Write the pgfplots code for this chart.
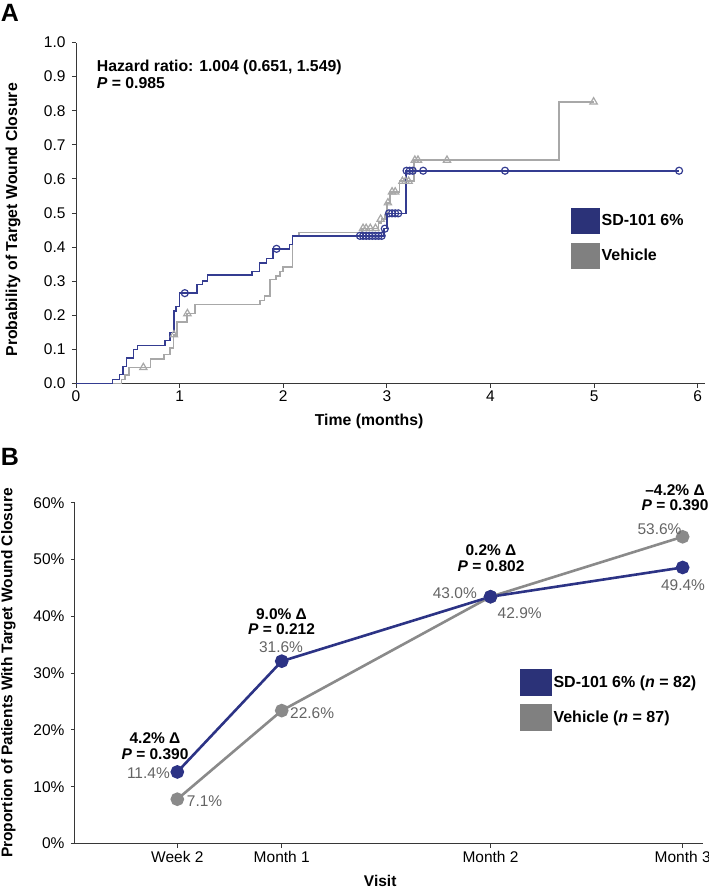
\documentclass[border=0pt]{standalone}
\usepackage{fontspec}
\setmainfont{Liberation Sans}
\usepackage{pgfplots}
\pgfplotsset{compat=1.18}
\definecolor{sdblue}{RGB}{44,51,133}
\definecolor{sdblueA}{RGB}{52,60,145}
\definecolor{sdblueLeg}{RGB}{43,50,120}
\definecolor{vehgray}{RGB}{138,138,138}
\definecolor{vehgrayA}{RGB}{168,168,168}
\definecolor{vehgrayLeg}{RGB}{128,128,128}
\definecolor{axisgray}{RGB}{55,55,55}
\definecolor{labgray}{RGB}{100,100,100}
\begin{document}
\begin{tikzpicture}
\path[use as bounding box] (0,0) rectangle (709pt,-889pt);
% ---------------- Panel A ----------------
\begin{axis}[
  at={(76pt,-383.5pt)}, anchor=south west,
  scale only axis, width=629pt, height=341pt,
  xmin=0, xmax=6.07, ymin=0, ymax=1,
  axis lines=left, axis line style={-, axisgray},
  x axis line style={line width=1.8pt},
  y axis line style={line width=0.9pt},
  xtick={0,1,2,3,4,5,6},
  ytick={0,0.1,0.2,0.3,0.4,0.5,0.6,0.7,0.8,0.9,1},
  tick align=outside, major tick length=4pt,
  tick style={axisgray, line width=0.9pt},
  /pgf/number format/assume math mode=true,
  yticklabel style={xshift=-3pt, /pgf/number format/fixed, /pgf/number format/fixed zerofill, /pgf/number format/precision=1},
  tick label style={font=\fontsize{15.5}{15.5}\selectfont},
  xlabel={Time (months)}, ylabel={Probability of Target Wound Closure},
  label style={font=\bfseries\fontsize{15.8}{15.8}\selectfont},
  xlabel style={at={(axis description cs:0.466,-0.11)}, anchor=center},
  ylabel style={at={(axis description cs:-0.100,0.48)}, anchor=center},
  clip=false,
  reverse legend,
  legend style={at={(axis description cs:0.786,0.515)}, anchor=north west, draw=none, fill=none,
    inner sep=0pt, row sep=8.5pt, nodes={inner sep=1.5pt},
    font=\bfseries\fontsize{16}{16}\selectfont},
  legend cell align=left,
]
\addplot[const plot mark left, vehgrayA, line width=1.6pt,
  legend image code/.code={\fill[vehgrayLeg] (0pt,-12.25pt) rectangle (28pt,12.25pt);}]
coordinates {(0,0) (0.44,0.012) (0.475,0.025) (0.51,0.047) (0.72,0.072) (0.85,0.085)
 (0.905,0.105) (0.94,0.143) (0.975,0.18) (1.07,0.205) (1.15,0.232) (1.775,0.243)
 (1.82,0.256) (1.87,0.305) (1.93,0.315) (1.97,0.328) (2.0,0.342) (2.09,0.433)
 (2.15,0.443) (2.76,0.455) (2.92,0.47) (2.95,0.482) (2.98,0.496) (3.0,0.53)
 (3.03,0.562) (3.12,0.593) (3.26,0.655) (4.66,0.826) (5.0,0.826)};
\addlegendentry{Vehicle}
\addplot[only marks, mark=triangle, mark size=4.2pt, vehgrayA, mark options={line width=1.2pt}, forget plot]
coordinates {(0.65,0.047) (0.945,0.143) (1.075,0.205) (2.77,0.455) (2.80,0.455)
 (2.84,0.455) (2.89,0.455) (2.94,0.482) (3.01,0.53) (3.05,0.562) (3.08,0.562)
 (3.15,0.593) (3.18,0.593) (3.21,0.593) (3.27,0.655) (3.30,0.655) (3.58,0.655) (4.995,0.826)};
\addplot[const plot mark left, sdblueA, line width=1.6pt,
  legend image code/.code={\fill[sdblueLeg] (0pt,-12.25pt) rectangle (28pt,12.25pt);}]
coordinates {(0,0) (0.354,0.012) (0.418,0.026) (0.456,0.05) (0.488,0.075) (0.553,0.10)
 (0.595,0.111) (0.858,0.126) (0.907,0.15) (0.945,0.213) (0.965,0.226) (1.0,0.265)
 (1.17,0.29) (1.22,0.30) (1.27,0.318) (1.70,0.328) (1.77,0.353) (1.84,0.367)
 (1.90,0.395) (2.06,0.408) (2.09,0.433) (2.97,0.454) (3.0,0.499) (3.185,0.624) (5.82,0.624)};
\addlegendentry{SD-101 6\%}
\addplot[only marks, mark=o, mark size=3.5pt, sdblueA, mark options={line width=1.2pt}, forget plot]
coordinates {(1.05,0.265) (1.935,0.395) (2.74,0.433) (2.77,0.433) (2.80,0.433) (2.83,0.433)
 (2.86,0.433) (2.89,0.433) (2.92,0.433) (2.95,0.433) (2.98,0.454) (3.02,0.499) (3.05,0.499)
 (3.08,0.499) (3.11,0.499) (3.19,0.624) (3.22,0.624) (3.25,0.624) (3.35,0.624) (4.14,0.624) (5.82,0.624)};
\end{axis}
% ---------------- Panel B ----------------
\begin{axis}[
  at={(75pt,-843.5pt)}, anchor=south west,
  scale only axis, width=628pt, height=340.8pt,
  xmin=0.04, xmax=12.07, ymin=0, ymax=60,
  axis lines=left, axis line style={-, axisgray},
  x axis line style={line width=1.5pt},
  y axis line style={line width=1pt},
  xtick={2,4,8,11.68}, xticklabels={Week 2, Month 1, Month 2, Month 3},
  ytick={0,10,20,30,40,50,60}, yticklabels={0\%,10\%,20\%,30\%,40\%,50\%,60\%},
  tick align=outside, major tick length=4pt,
  tick style={axisgray, line width=0.9pt},
  tick label style={font=\fontsize{15.5}{15.5}\selectfont},
  yticklabel style={xshift=-3pt},
  xlabel={Visit}, ylabel={Proportion of Patients With Target Wound Closure},
  label style={font=\bfseries\fontsize{15.5}{15.5}\selectfont},
  xlabel style={at={(axis description cs:0.486,-0.109)}, anchor=center},
  ylabel style={at={(axis description cs:-0.106,0.5)}, anchor=center},
  clip=false,
  reverse legend,
  legend style={at={(axis description cs:0.709,0.512)}, anchor=north west, draw=none, fill=none,
    inner sep=0pt, row sep=8.5pt, nodes={inner sep=1.5pt},
    font=\bfseries\fontsize{16}{16}\selectfont},
  legend cell align=left,
]
\addplot[vehgray, line width=2.6pt, mark=*, mark size=5.5pt,
  legend image code/.code={\fill[vehgrayLeg] (0pt,-12pt) rectangle (29pt,12pt);}]
coordinates {(2,7.8) (4,23.4) (8,43.45) (11.68,54.0)};
\addlegendentry{Vehicle (\textit{n} = 87)}
\addplot[sdblue, line width=2.6pt, mark=*, mark size=5.5pt,
  legend image code/.code={\fill[sdblueLeg] (0pt,-12pt) rectangle (29pt,12pt);}]
coordinates {(2,12.6) (4,32.1) (8,43.45) (11.68,48.6)};
\addlegendentry{SD-101 6\% (\textit{n} = 82)}
\end{axis}
% ---------------- Text ----------------
\node[font=\bfseries\fontsize{25}{25}\selectfont, inner sep=0pt] at (10pt,-12.5pt) {A};
\node[font=\bfseries\fontsize{25}{25}\selectfont, inner sep=0pt] at (10pt,-457pt) {B};
\node[anchor=west, align=left, inner sep=0pt, font=\bfseries\fontsize{15.8}{17}\selectfont]
  at (96.7pt,-74.5pt) {Hazard ratio: 1.004 (0.651, 1.549)\\\textit{P} = 0.985};
\begin{scope}[every node/.style={inner sep=0pt, align=center, font=\bfseries\fontsize{15.5}{15.5}\selectfont}]
\node at (155pt,-746pt) {4.2\% Δ\\\textit{P} = 0.390};
\node at (281.5pt,-621.5pt) {9.0\% Δ\\\textit{P} = 0.212};
\node at (491pt,-558pt) {0.2\% Δ\\\textit{P} = 0.802};
\node at (675pt,-497.5pt) {–4.2\% Δ\\\textit{P} = 0.390};
\end{scope}
\begin{scope}[every node/.style={inner sep=0pt, text=labgray, font=\fontsize{15.5}{15.5}\selectfont}]
\node[anchor=east] at (170pt,-772.7pt) {11.4\%};
\node[anchor=west] at (186.7pt,-800.7pt) {7.1\%};
\node at (281pt,-647pt) {31.6\%};
\node[anchor=west] at (290pt,-713pt) {22.6\%};
\node[anchor=east] at (477pt,-592.7pt) {43.0\%};
\node[anchor=west] at (497.5pt,-613pt) {42.9\%};
\node at (659.5pt,-529pt) {53.6\%};
\node at (683pt,-585pt) {49.4\%};
\end{scope}
\end{tikzpicture}
\end{document}
